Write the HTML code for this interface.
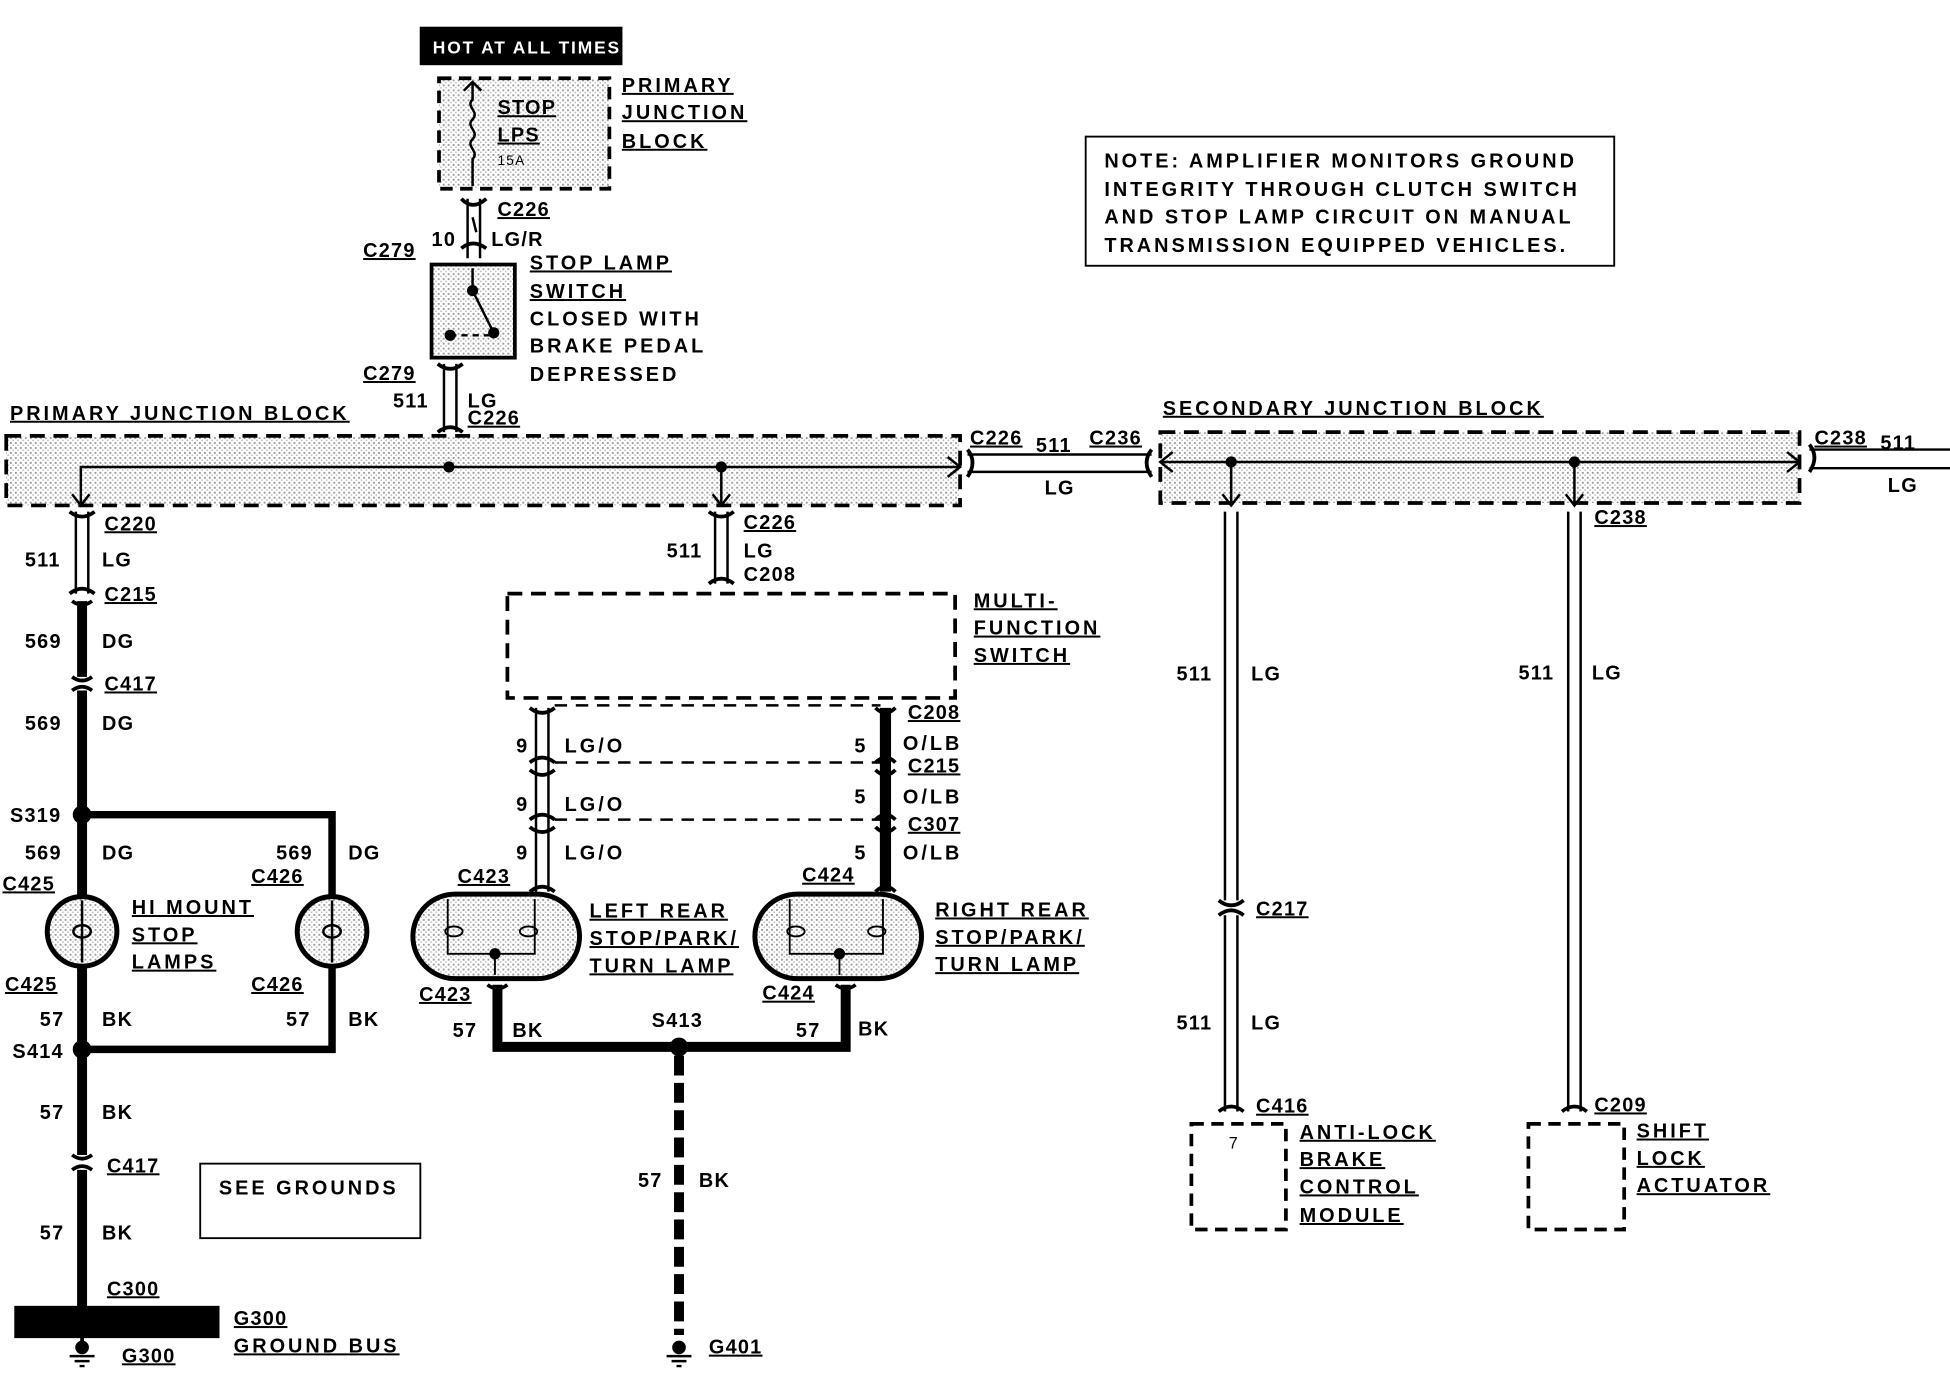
<!DOCTYPE html>
<html><head><meta charset="utf-8"><style>
html,body{margin:0;padding:0;background:#fff;width:1950px;height:1376px;overflow:hidden}
svg{display:block}
text{font-family:"Liberation Sans",sans-serif;font-weight:bold;font-size:16px;letter-spacing:1px;fill:#000}
.u{text-decoration:underline}
.w{letter-spacing:2.4px}
</style></head><body>
<svg width="1950" height="1376" viewBox="0 0 1568 1108" preserveAspectRatio="none" xmlns="http://www.w3.org/2000/svg">
<defs>
<pattern id="dots" width="4" height="4" patternUnits="userSpaceOnUse"><rect width="4" height="4" fill="#fff"/><rect width="1.5" height="1.5" fill="#999"/><rect x="2" y="2" width="1.2" height="1.2" fill="#bbb"/></pattern>
</defs>
<g stroke="#000" fill="none">
<rect x="338" y="22" width="162" height="30" fill="#000"/>
<rect x="353" y="63" width="137" height="89" fill="url(#dots)" stroke-width="3" stroke-dasharray="10,6"/>
<path d="M380 66 V80 c-6 6 6 10 0 16 c-6 6 6 10 0 16 c-6 6 6 10 0 16 V150" stroke-width="2"/>
<path d="M373 73 L380 66 L387 73" stroke-width="2"/>
<path d="M376 160 V208 M386 160 V208" stroke-width="2"/>
<path d="M371 160 q9 10 20 0 M371 200 q9 -8 20 0" stroke-width="3"/>
<path d="M380 175 l3 12" stroke-width="2"/>
<rect x="347" y="213" width="67" height="75" fill="url(#dots)" stroke-width="3"/>
<path d="M380 216 V234 L397 268" stroke-width="2"/>
<circle cx="380" cy="234" r="4" fill="#000"/><circle cx="397" cy="268" r="4" fill="#000"/><circle cx="362" cy="270" r="4" fill="#000"/>
<path d="M362 270 H395" stroke-width="2" stroke-dasharray="5,4"/>
<path d="M357 293 V348 M367 293 V348" stroke-width="2"/>
<path d="M352 293 q10 8 20 0 M352 348 q10 -8 20 0" stroke-width="3"/>
<rect x="5" y="351" width="767" height="56" fill="url(#dots)" stroke-width="3" stroke-dasharray="12,7"/>
<path d="M65 405 V376 H772 M580 376 V405" stroke-width="2"/>
<path d="M762 368 L772 376 L762 384 M58 398 L65 407 L72 398 M573 398 L580 407 L587 398" stroke-width="2"/>
<circle cx="361" cy="376" r="4" fill="#000"/><circle cx="580" cy="376" r="4" fill="#000"/>
<path d="M778 366 H926 M778 380 H926" stroke-width="2"/>
<path d="M778 362 q8 10 0 22 M926 362 q-8 10 0 22" stroke-width="3"/>
<rect x="933" y="348" width="514" height="57" fill="url(#dots)" stroke-width="3" stroke-dasharray="12,7"/>
<path d="M933 372 H1447 M990 372 V405 M1266 372 V405" stroke-width="2"/>
<path d="M943 364 L933 372 L943 380 M1437 364 L1447 372 L1437 380 M983 398 L990 407 L997 398 M1259 398 L1266 407 L1273 398" stroke-width="2"/>
<circle cx="990" cy="372" r="4" fill="#000"/><circle cx="1266" cy="372" r="4" fill="#000"/>
<path d="M1455 362 H1568 M1455 377 H1568" stroke-width="2"/>
<path d="M1455 358 q8 10 0 22" stroke-width="3"/>
<path d="M61 412 V478 M71 412 V478" stroke-width="2"/>
<path d="M56 412 q10 8 20 0 M56 478 q10 -8 20 0" stroke-width="3"/>
<path d="M66 484 V545 M66 556 V845 M66 845 V930 M66 942 V1052" stroke-width="8"/>
<path d="M58 484 q8 6 16 0 M58 545 q8 6 16 0 M58 556 q8 -6 16 0 M58 930 q8 6 16 0 M58 942 q8 -6 16 0" stroke-width="3"/>
<path d="M66 656 H267 V722 M267 778 V845 H66" stroke-width="6"/>
<path d="M66 722 V778" stroke-width="6"/>
<circle cx="66" cy="656" r="7" fill="#000"/><circle cx="66" cy="845" r="7" fill="#000"/>
<circle cx="66" cy="750" r="28" fill="url(#dots)" stroke-width="4"/>
<circle cx="267" cy="750" r="28" fill="url(#dots)" stroke-width="4"/>
<path d="M66 725 V775 M267 725 V775" stroke-width="2"/>
<ellipse cx="66" cy="750" rx="7" ry="5" stroke-width="2"/><ellipse cx="267" cy="750" rx="7" ry="5" stroke-width="2"/>
<rect x="12" y="1052" width="164" height="25" fill="#000"/>
<path d="M66 1077 V1085" stroke-width="3"/>
<circle cx="66" cy="1085" r="5" fill="#000"/>
<path d="M56 1092 H76 M60 1096 H72 M64 1100 H68" stroke-width="2"/>
<rect x="161" y="937" width="177" height="60" stroke-width="1.5"/>
<path d="M575 412 V470 M585 412 V470" stroke-width="2"/>
<path d="M570 412 q10 8 20 0 M570 470 q10 -8 20 0" stroke-width="3"/>
<rect x="408" y="478" width="360" height="84" stroke-width="3" stroke-dasharray="12,7"/>
<path d="M431 570 V718 M441 570 V718" stroke-width="2"/>
<path d="M712 570 V718" stroke-width="9"/>
<path d="M426 570 q10 8 20 0 M426 614 q10 -8 20 0 M426 620 q10 8 20 0 M426 660 q10 -8 20 0 M426 666 q10 8 20 0 M426 718 q10 -8 20 0" stroke-width="3"/>
<path d="M704 570 q8 8 16 0 M704 614 q8 -8 16 0 M704 620 q8 8 16 0 M704 660 q8 -8 16 0 M704 666 q8 8 16 0 M704 718 q8 -8 16 0" stroke-width="3"/>
<path d="M446 568 H708 M446 614 H708 M446 660 H708" stroke-width="2" stroke-dasharray="10,7"/>
<rect x="332" y="720" width="134" height="68" rx="34" fill="url(#dots)" stroke-width="4"/>
<rect x="607" y="720" width="134" height="68" rx="34" fill="url(#dots)" stroke-width="4"/>
<path d="M360 724 V768 H430 V724 M398 768 V785 M635 724 V768 H710 V724 M675 768 V785" stroke-width="1.5"/>
<ellipse cx="365" cy="750" rx="7" ry="4" stroke-width="1.5"/><ellipse cx="425" cy="750" rx="7" ry="4" stroke-width="1.5"/>
<ellipse cx="640" cy="750" rx="7" ry="4" stroke-width="1.5"/><ellipse cx="705" cy="750" rx="7" ry="4" stroke-width="1.5"/>
<circle cx="398" cy="768" r="4" fill="#000"/><circle cx="675" cy="768" r="4" fill="#000"/>
<path d="M400 793 V843 H680 V793" stroke-width="8"/>
<path d="M392 793 q8 6 16 0 M672 793 q8 6 16 0" stroke-width="3"/>
<circle cx="546" cy="843" r="7" fill="#000"/>
<path d="M546 850 V1075" stroke-width="8" stroke-dasharray="16,6"/>
<circle cx="546" cy="1085" r="5" fill="#000"/>
<path d="M536 1092 H556 M540 1096 H552 M544 1100 H548" stroke-width="2"/>
<path d="M985 412 V725 M995 412 V725 M985 737 V895 M995 737 V895" stroke-width="2"/>
<path d="M980 725 q10 8 20 0 M980 737 q10 -8 20 0 M980 895 q10 -8 20 0" stroke-width="3"/>
<path d="M1261 412 V895 M1271 412 V895" stroke-width="2"/>
<path d="M1256 895 q10 -8 20 0" stroke-width="3"/>
<rect x="958" y="905" width="76" height="85" stroke-width="3" stroke-dasharray="10,6"/>
<rect x="1229" y="905" width="77" height="85" stroke-width="3" stroke-dasharray="10,6"/>
<rect x="873" y="110" width="425" height="104" stroke-width="1.5"/>
</g>
<text x="348" y="43" style="fill:#fff;font-size:14px;letter-spacing:1.5px">HOT AT ALL TIMES</text>
<text x="400" y="92" class="u">STOP</text><text x="400" y="114" class="u">LPS</text><text x="400" y="133" style="font-size:11px;font-weight:normal">15A</text>
<text x="500" y="74" class="u w">PRIMARY</text><text x="500" y="96" class="u w">JUNCTION</text><text x="500" y="119" class="u w">BLOCK</text>
<text x="400" y="174" class="u">C226</text><text x="347" y="198">10</text><text x="395" y="198">LG/R</text>
<text x="292" y="207" class="u">C279</text>
<text x="426" y="217" class="u w">STOP LAMP</text><text x="426" y="240" class="u w">SWITCH</text><text x="426" y="262" class="w">CLOSED WITH</text><text x="426" y="284" class="w">BRAKE PEDAL</text><text x="426" y="307" class="w">DEPRESSED</text>
<text x="292" y="306" class="u">C279</text><text x="316" y="328">511</text><text x="376" y="328">LG</text><text x="376" y="342" class="u">C226</text>
<text x="8" y="338" class="u w">PRIMARY JUNCTION BLOCK</text>
<text x="780" y="358" class="u">C226</text><text x="833" y="364">511</text><text x="876" y="358" class="u">C236</text><text x="840" y="398">LG</text>
<text x="935" y="334" class="u w">SECONDARY JUNCTION BLOCK</text>
<text x="1459" y="358" class="u">C238</text><text x="1512" y="362">511</text><text x="1518" y="396">LG</text>
<text x="888" y="135" class="w">NOTE: AMPLIFIER MONITORS GROUND</text><text x="888" y="158" class="w">INTEGRITY THROUGH CLUTCH SWITCH</text><text x="888" y="180" class="w">AND STOP LAMP CIRCUIT ON MANUAL</text><text x="888" y="203" class="w">TRANSMISSION EQUIPPED VEHICLES.</text>
<text x="84" y="427" class="u">C220</text><text x="20" y="456">511</text><text x="82" y="456">LG</text><text x="84" y="484" class="u">C215</text>
<text x="20" y="522">569</text><text x="82" y="522">DG</text><text x="84" y="556" class="u">C417</text><text x="20" y="588">569</text><text x="82" y="588">DG</text>
<text x="8" y="662">S319</text><text x="20" y="692">569</text><text x="82" y="692">DG</text><text x="222" y="692">569</text><text x="280" y="692">DG</text>
<text x="2" y="717" class="u">C425</text><text x="202" y="711" class="u">C426</text>
<text x="106" y="736" class="u w">HI MOUNT</text><text x="106" y="758" class="u w">STOP</text><text x="106" y="780" class="u w">LAMPS</text>
<text x="4" y="798" class="u">C425</text><text x="202" y="798" class="u">C426</text>
<text x="32" y="826">57</text><text x="82" y="826">BK</text><text x="230" y="826">57</text><text x="280" y="826">BK</text>
<text x="10" y="852">S414</text><text x="32" y="901">57</text><text x="82" y="901">BK</text><text x="86" y="944" class="u">C417</text>
<text x="32" y="998">57</text><text x="82" y="998">BK</text><text x="86" y="1043" class="u">C300</text>
<text x="188" y="1067" class="u">G300</text><text x="188" y="1089" class="u w">GROUND BUS</text><text x="98" y="1097" class="u">G300</text>
<text x="176" y="962" class="w">SEE GROUNDS</text>
<text x="598" y="426" class="u">C226</text><text x="536" y="449">511</text><text x="598" y="449">LG</text><text x="598" y="468">C208</text>
<text x="783" y="489" class="u w">MULTI-</text><text x="783" y="511" class="u w">FUNCTION</text><text x="783" y="533" class="u w">SWITCH</text>
<text x="415" y="606">9</text><text x="454" y="606" class="w">LG/O</text><text x="415" y="653">9</text><text x="454" y="653" class="w">LG/O</text><text x="415" y="692">9</text><text x="454" y="692" class="w">LG/O</text>
<text x="687" y="606">5</text><text x="726" y="604" class="w">O/LB</text><text x="687" y="647">5</text><text x="726" y="647" class="w">O/LB</text><text x="687" y="692">5</text><text x="726" y="692" class="w">O/LB</text>
<text x="730" y="579" class="u">C208</text><text x="730" y="622" class="u">C215</text><text x="730" y="669" class="u">C307</text>
<text x="368" y="711" class="u">C423</text><text x="645" y="710" class="u">C424</text>
<text x="474" y="739" class="u w">LEFT REAR</text><text x="474" y="761" class="u w">STOP/PARK/</text><text x="474" y="783" class="u w">TURN LAMP</text>
<text x="752" y="738" class="u w">RIGHT REAR</text><text x="752" y="760" class="u w">STOP/PARK/</text><text x="752" y="782" class="u w">TURN LAMP</text>
<text x="337" y="806" class="u">C423</text><text x="613" y="805" class="u">C424</text>
<text x="364" y="835">57</text><text x="412" y="835">BK</text><text x="524" y="827">S413</text><text x="640" y="835">57</text><text x="690" y="834">BK</text>
<text x="513" y="956">57</text><text x="562" y="956">BK</text><text x="570" y="1090" class="u">G401</text>
<text x="946" y="548">511</text><text x="1006" y="548">LG</text><text x="1010" y="737" class="u">C217</text><text x="946" y="829">511</text><text x="1006" y="829">LG</text>
<text x="1010" y="896" class="u">C416</text><text x="988" y="925" style="font-size:13px;font-weight:normal">7</text>
<text x="1045" y="917" class="u w">ANTI-LOCK</text><text x="1045" y="939" class="u w">BRAKE</text><text x="1045" y="961" class="u w">CONTROL</text><text x="1045" y="984" class="u w">MODULE</text>
<text x="1221" y="547">511</text><text x="1280" y="547">LG</text><text x="1282" y="422" class="u">C238</text><text x="1282" y="895" class="u">C209</text>
<text x="1316" y="916" class="u w">SHIFT</text><text x="1316" y="938" class="u w">LOCK</text><text x="1316" y="960" class="u w">ACTUATOR</text>
</svg>
</body></html>
